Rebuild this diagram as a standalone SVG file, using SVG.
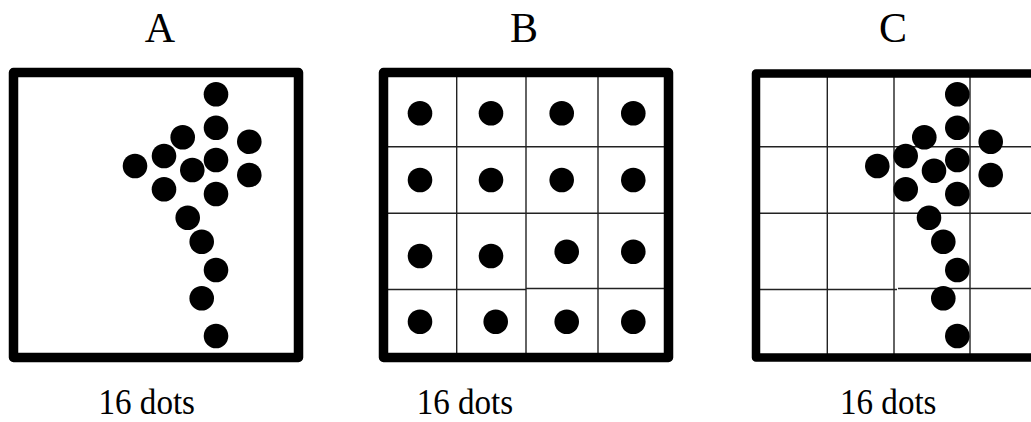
<svg xmlns="http://www.w3.org/2000/svg" width="1031" height="422" viewBox="0 0 1031 422">
<style>
.frame{fill:none;stroke:#000;stroke-width:9.5;stroke-linejoin:round}
.grid{stroke:#222;stroke-width:1.4;fill:none}
.dot{fill:#000}
.title{font-family:"Liberation Serif","Times New Roman",serif;font-size:42px;fill:#000;text-anchor:middle}
.cap{font-family:"Liberation Serif","Times New Roman",serif;font-size:35px;fill:#000}
</style>
<rect width="1031" height="422" fill="#fff"/>
<g id="panelA">
<text class="title" x="160" y="42">A</text>
<rect class="frame" x="13.5" y="72.5" width="285" height="285"/>
<g class="dot">
<circle cx="216" cy="94.3" r="12.3"/>
<circle cx="216" cy="127.7" r="12.3"/>
<circle cx="182.7" cy="137.3" r="12.3"/>
<circle cx="249.3" cy="141.7" r="12.3"/>
<circle cx="164" cy="156" r="12.3"/>
<circle cx="135" cy="166" r="12.3"/>
<circle cx="192.3" cy="170" r="12.3"/>
<circle cx="216" cy="160" r="12.3"/>
<circle cx="249.3" cy="175" r="12.3"/>
<circle cx="164" cy="189.3" r="12.3"/>
<circle cx="216" cy="194" r="12.3"/>
<circle cx="187.7" cy="217.7" r="12.3"/>
<circle cx="201.7" cy="241.7" r="12.3"/>
<circle cx="216" cy="270" r="12.3"/>
<circle cx="201.7" cy="298.3" r="12.3"/>
<circle cx="216" cy="336" r="12.3"/>
</g>
<text class="cap" x="98.5" y="414" textLength="96.5" lengthAdjust="spacingAndGlyphs">16 dots</text>
</g>
<g id="panelB">
<text class="title" x="524" y="42">B</text>
<g class="grid">
<line x1="456.7" y1="77" x2="456.7" y2="358"/>
<line x1="526" y1="77" x2="526" y2="358"/>
<line x1="598" y1="77" x2="598" y2="358"/>
<line x1="388" y1="146.7" x2="664" y2="146.7"/>
<line x1="388" y1="213.3" x2="664" y2="213.3"/>
<line x1="388" y1="289.5" x2="526" y2="289.5"/>
<line x1="526" y1="288.5" x2="664" y2="288.5"/>
</g>
<rect class="frame" x="383.5" y="72.5" width="285" height="285"/>
<g class="dot">
<circle cx="420" cy="113.3" r="12.3"/>
<circle cx="491" cy="113.3" r="12.3"/>
<circle cx="561.7" cy="113.3" r="12.3"/>
<circle cx="633.3" cy="113.3" r="12.3"/>
<circle cx="420" cy="180" r="12.3"/>
<circle cx="491" cy="180" r="12.3"/>
<circle cx="561.7" cy="180" r="12.3"/>
<circle cx="633.3" cy="180" r="12.3"/>
<circle cx="420" cy="256" r="12.3"/>
<circle cx="491" cy="256" r="12.3"/>
<circle cx="566.7" cy="251.7" r="12.3"/>
<circle cx="633.3" cy="251.7" r="12.3"/>
<circle cx="420" cy="321.7" r="12.3"/>
<circle cx="495.7" cy="321.7" r="12.3"/>
<circle cx="566.7" cy="321.7" r="12.3"/>
<circle cx="633.3" cy="321.7" r="12.3"/>
</g>
<text class="cap" x="416.7" y="414" textLength="96.5" lengthAdjust="spacingAndGlyphs">16 dots</text>
</g>
<g id="panelC">
<text class="title" x="893" y="42">C</text>
<g class="grid">
<line x1="827.3" y1="77" x2="827.3" y2="358"/>
<line x1="894" y1="77" x2="894" y2="358"/>
<line x1="970" y1="77" x2="970" y2="358"/>
<line x1="760" y1="146.7" x2="1031" y2="146.7"/>
<line x1="760" y1="213.3" x2="1031" y2="213.3"/>
<line x1="760" y1="289.5" x2="897" y2="289.5"/>
<line x1="898" y1="288.5" x2="1031" y2="288.5"/>
</g>
<rect class="frame" x="756" y="73.5" width="285" height="284" style="stroke-width:8.5"/>
<g class="dot">
<circle cx="957.3" cy="94.3" r="12.3"/>
<circle cx="957.3" cy="127.7" r="12.3"/>
<circle cx="924.3" cy="137.3" r="12.3"/>
<circle cx="990.7" cy="141.7" r="12.3"/>
<circle cx="905.7" cy="156" r="12.3"/>
<circle cx="877.3" cy="166" r="12.3"/>
<circle cx="934" cy="170.7" r="12.3"/>
<circle cx="957.3" cy="160" r="12.3"/>
<circle cx="990.7" cy="175" r="12.3"/>
<circle cx="905.7" cy="189.3" r="12.3"/>
<circle cx="957.3" cy="194" r="12.3"/>
<circle cx="929" cy="217.7" r="12.3"/>
<circle cx="943.3" cy="241.7" r="12.3"/>
<circle cx="957.3" cy="270" r="12.3"/>
<circle cx="943.3" cy="298.3" r="12.3"/>
<circle cx="957.3" cy="336" r="12.3"/>
</g>
<text class="cap" x="840" y="414" textLength="96.5" lengthAdjust="spacingAndGlyphs">16 dots</text>
</g>
</svg>
